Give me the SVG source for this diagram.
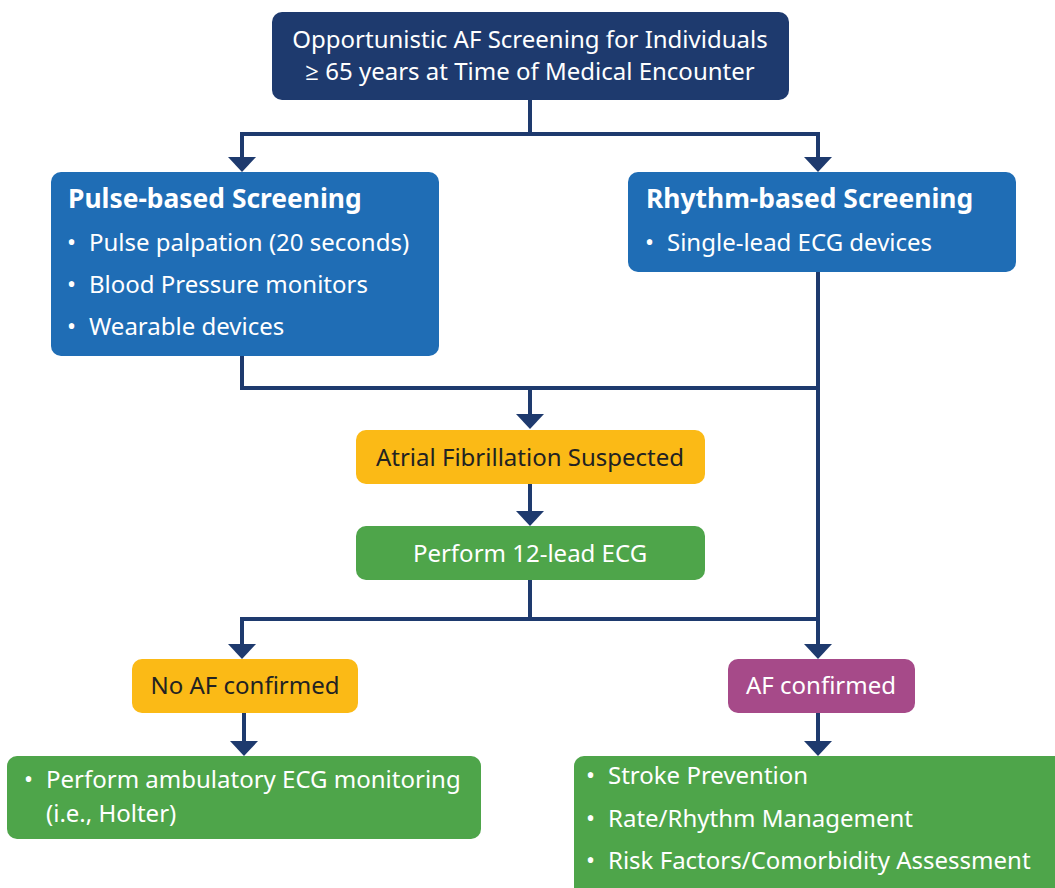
<svg xmlns="http://www.w3.org/2000/svg" width="1055" height="888" viewBox="0 0 1055 888">
  <style>
    text { font-family: "Noto Sans", "Open Sans", "DejaVu Sans", sans-serif; font-size: 24px; }
    .light { fill: #ffffff; }
    .dark { fill: #222222; }
    .title { font-weight: bold; font-size: 26.4px; }
    .mid { text-anchor: middle; }
    .navy { fill: #1e3a6e; }
    .blue { fill: #1f6db5; }
    .yellow { fill: #fbba16; }
    .green { fill: #4ea54a; }
    .purple { fill: #a64a89; }
    .link { fill: none; stroke: #1e3a6e; stroke-width: 4; stroke-linejoin: miter; }
  </style>
  <defs>
    <marker id="head" markerUnits="userSpaceOnUse" markerWidth="15" markerHeight="28" refX="11" refY="14" orient="auto">
      <path d="M0,0 L15,14 L0,28 Z" fill="#1e3a6e"/>
    </marker>
  </defs>

  <rect width="1055" height="888" fill="#ffffff"/>

  <!-- connectors -->
  <g id="connectors">
    <path class="link" d="M530,100 V134 H242 V168" marker-end="url(#head)"/>
    <path class="link" d="M530,134 H818 V168" marker-end="url(#head)"/>
    <path class="link" d="M242,356 V388 H818"/>
    <path class="link" d="M818,272 V655" marker-end="url(#head)"/>
    <path class="link" d="M530,388 V425" marker-end="url(#head)"/>
    <path class="link" d="M530,484 V522" marker-end="url(#head)"/>
    <path class="link" d="M530,580 V619 H242 V655" marker-end="url(#head)"/>
    <path class="link" d="M530,619 H818"/>
    <path class="link" d="M244,713 V752" marker-end="url(#head)"/>
    <path class="link" d="M818,713 V752" marker-end="url(#head)"/>
  </g>

  <!-- entry point -->
  <g id="start">
    <rect class="navy" x="272" y="12" width="517" height="88" rx="10"/>
    <text class="light mid" x="530" y="48">Opportunistic AF Screening for Individuals</text>
    <text class="light mid" x="530" y="80">≥ 65 years at Time of Medical Encounter</text>
  </g>

  <g id="pulse">
    <rect class="blue" x="51" y="172" width="388" height="184" rx="10"/>
    <text class="light title" x="68" y="208">Pulse-based Screening</text>
    <text class="light" x="67" y="251">•</text>
    <text class="light" x="89" y="251">Pulse palpation (20 seconds)</text>
    <text class="light" x="67" y="293">•</text>
    <text class="light" x="89" y="293">Blood Pressure monitors</text>
    <text class="light" x="67" y="335">•</text>
    <text class="light" x="89" y="335">Wearable devices</text>
  </g>

  <g id="rhythm">
    <rect class="blue" x="628" y="172" width="388" height="100" rx="10"/>
    <text class="light title" x="646" y="208">Rhythm-based Screening</text>
    <text class="light" x="645" y="251">•</text>
    <text class="light" x="667" y="251">Single-lead ECG devices</text>
  </g>

  <g id="suspected">
    <rect class="yellow" x="356" y="430" width="349" height="54" rx="10"/>
    <text class="dark mid" x="530" y="466">Atrial Fibrillation Suspected</text>
  </g>

  <g id="ecg12">
    <rect class="green" x="356" y="526" width="349" height="54" rx="10"/>
    <text class="light mid" x="530" y="562">Perform 12-lead ECG</text>
  </g>

  <g id="no-af">
    <rect class="yellow" x="132" y="659" width="226" height="54" rx="10"/>
    <text class="dark mid" x="245" y="694">No AF confirmed</text>
  </g>

  <g id="af">
    <rect class="purple" x="728" y="659" width="187" height="54" rx="10"/>
    <text class="light mid" x="821" y="694">AF confirmed</text>
  </g>

  <g id="ambulatory">
    <rect class="green" x="7" y="756" width="474" height="83" rx="10"/>
    <text class="light" x="24" y="788">•</text>
    <text class="light" x="46" y="788">Perform ambulatory ECG monitoring</text>
    <text class="light" x="46" y="822">(i.e., Holter)</text>
  </g>

  <g id="management">
    <rect class="green" x="574" y="756" width="500" height="150" rx="10"/>
    <text class="light" x="586" y="784">•</text>
    <text class="light" x="608" y="784">Stroke Prevention</text>
    <text class="light" x="586" y="827">•</text>
    <text class="light" x="608" y="827">Rate/Rhythm Management</text>
    <text class="light" x="586" y="869">•</text>
    <text class="light" x="608" y="869">Risk Factors/Comorbidity Assessment</text>
  </g>
</svg>
